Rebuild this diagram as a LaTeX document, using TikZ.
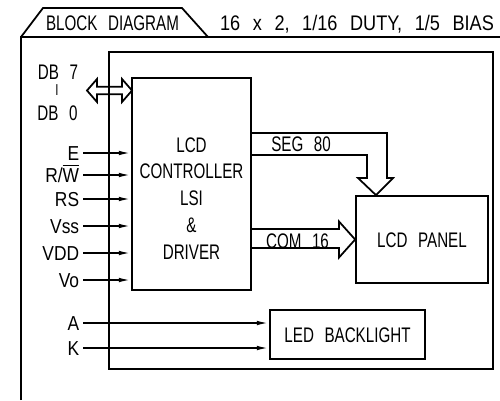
\documentclass[tikz,border=0pt]{standalone}
\usepackage{fontspec}
\setmainfont{Liberation Sans}[FakeStretch=0.72,WordSpace=2.5]
\newfontfamily\widefont{Liberation Sans}[FakeStretch=0.86,WordSpace=2.5]
\usepackage{tikz}
\usetikzlibrary{arrows.meta,positioning,calc}
\newcommand{\rwbar}{R/$\overline{\mbox{W}}$}
\tikzset{
  bd block/.style={
    rectangle,
    draw=black,
    line width=1pt,
    inner sep=0pt,
    font=\fontsize{12}{15}\selectfont,
    text height=8.6pt,
    text depth=0pt,
  },
  bd text/.style={
    font=\fontsize{12}{15}\selectfont,
    inner sep=0pt,
    text height=8.6pt,
    text depth=0pt,
  },
  bd label/.style={
    font=\widefont\fontsize{11.5}{14}\selectfont,
    anchor=east,
    inner sep=2pt,
    text height=8.2pt,
    text depth=0pt,
  },
  bd arrow/.style={-{Latex[length=7pt,width=2.6pt]}, line width=1pt},
  bd line/.style={line width=1pt, line join=miter},
}

\begin{document}
\begin{tikzpicture}[x=0.02cm,y=-0.02cm]
  \useasboundingbox (0,0) rectangle (500,400);

  % sheet frame and title tab
  \draw[bd line] (21,400) -- (21,37) -- (500,37);
  \draw[bd line] (21,37) -- (43,8) -- (182,8) -- (208,37);
  \node[bd text] (title) at (112.5,22.5) {BLOCK DIAGRAM};
  \node[bd text, font=\widefont\fontsize{12}{15}\selectfont] (spec) at (357,22.5) {16 x 2, 1/16 DUTY, 1/5 BIAS};

  % module outline
  \draw[bd line] (109,52) rectangle (493,369);

  % blocks
  \node[bd block, minimum width=2.38cm, minimum height=4.24cm] (ctrl) at (191.5,184) {};
  \node[font=\fontsize{12}{15.3}\selectfont, align=center, inner sep=0pt] (ctrltext) at (191.5,198.5)
    {LCD\\CONTROLLER\\LSI\\\&\\DRIVER};
  \node[bd block, minimum width=2.64cm, minimum height=1.74cm] (panel) at (422,239.5) {LCD PANEL};
  \node[bd block, minimum width=3.1cm, minimum height=0.98cm] (led) at (347.5,334.5) {LED BACKLIGHT};

  % data bus
  \node[bd text] (db7) at (58,71.5) {DB 7};
  \node[bd text, font=\fontsize{9}{11}\selectfont, text height=6.4pt] (dbto) at (57,90) {I};
  \node[bd text] (db0) at (57.5,112.5) {DB 0};
  \coordinate (dbtip) at (87,90.5);
  \draw[bd line] (dbtip) -- ++(10,-11.5) -- ++(0,7.7) -- ++(25,0) -- ++(0,-7.7)
    -- ++(10,11.5) -- ++(-10,11.5) -- ++(0,-7.7) -- ++(-25,0) -- ++(0,7.7) -- cycle;

  % control and power inputs
  \foreach \sig/\yy [count=\i] in {E/153, \rwbar/175, RS/199, Vss/226, VDD/253, Vo/280}
  {
    \node[bd label] (in\i) at (83,\yy) {\sig};
    \draw[bd arrow] (in\i.east) -- (in\i.east -| ctrl.west);
  }

  % backlight supply
  \node[bd label] (anode) at (83,323) {A};
  \node[bd label] (cathode) at (83,348) {K};
  \draw[bd arrow] (anode.east) -- (anode.east -| led.west);
  \draw[bd arrow] (cathode.east) -- (cathode.east -| led.west);

  % segment bus
  \draw[bd line] (ctrl.east |- 0,133) -- (387,133) -- (387,178) -- (393,178)
    -- (376,0 |- panel.north) -- (358,178) -- (367,178) -- (367,155) -- (ctrl.east |- 0,155);
  \node[bd text] (seg) at (301,144) {SEG 80};

  % common bus
  \draw[bd line] (ctrl.east |- 0,229) -- (339,229) -- (339,221.5) -- (panel.west)
    -- (339,257.5) -- (339,248) -- (ctrl.east |- 0,248);
  \node[bd text] (com) at (297.5,240.5) {COM 16};
\end{tikzpicture}
\end{document}
